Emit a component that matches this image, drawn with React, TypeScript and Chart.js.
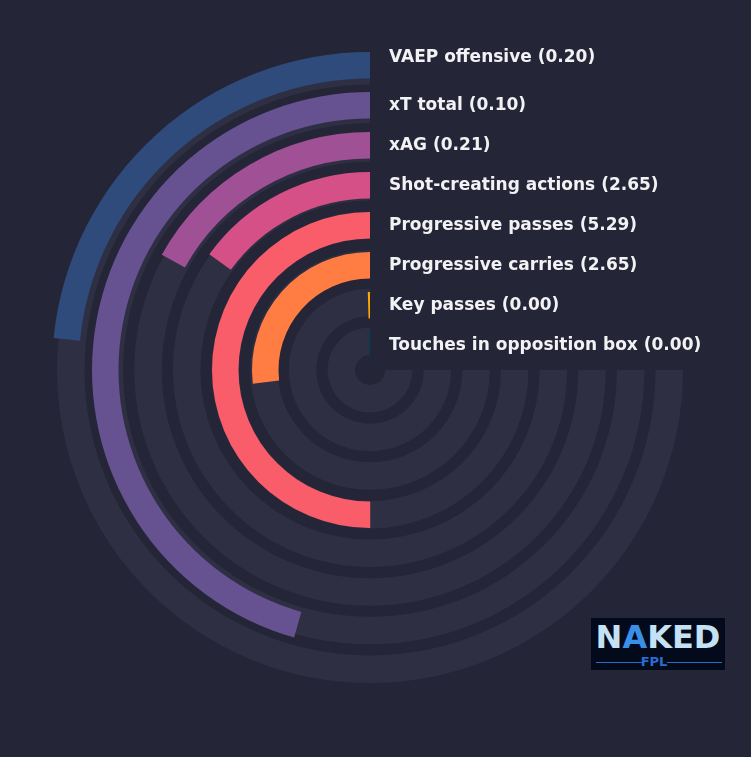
import React, { useEffect, useRef } from "react";
import { Chart, registerables } from "chart.js";

Chart.register(...registerables);

// ---- data ----
const categories = [
  "VAEP offensive",
  "xT total",
  "xAG",
  "Shot-creating actions",
  "Progressive passes",
  "Progressive carries",
  "Key passes",
  "Touches in opposition box",
];
const values = [0.2, 0.1, 0.21, 2.65, 5.29, 2.65, 0.0, 0.0];
// share of the 270° track that each bar fills
const fillShares = [0.312, 0.608, 0.226, 0.201, 0.667, 0.358, 0.006, 0.008];
const barColors = [
  "#2f4b7c",
  "#665191",
  "#a05195",
  "#d45087",
  "#f95d6a",
  "#ff7c43",
  "#ffa600",
  "#003f5c",
];

// ---- styling ----
const BG = "#252538";
const TRACK = "#2e2f43";
const TRANSPARENT = "rgba(0,0,0,0)";
const SIZE = 724;

function buildTrackConfig(): any {
  const ringW = 27.5;
  const gapW = 11.14;
  const outer = 313;
  const inner = 15;
  const datasets: any[] = [];
  categories.forEach((_, i) => {
    datasets.push({
      data: [1],
      backgroundColor: [TRACK],
      borderWidth: 0,
      weight: ringW,
    });
    if (i < categories.length - 1) {
      datasets.push({
        data: [1],
        backgroundColor: [TRANSPARENT],
        borderWidth: 0,
        weight: gapW,
      });
    }
  });
  return {
    type: "doughnut",
    data: { labels: ["track"], datasets },
    options: {
      animation: false,
      responsive: false,
      events: [],
      radius: outer,
      cutout: (inner / outer) * 100 + "%",
      rotation: 90,
      circumference: 270,
      layout: { padding: 0 },
      plugins: { legend: { display: false }, tooltip: { enabled: false } },
    },
  };
}

const labelPlugin = {
  id: "ringLabels",
  afterDraw(chart: any) {
    const ctx = chart.ctx;
    ctx.save();
    ctx.font = "bold 17px 'DejaVu Sans'";
    ctx.fillStyle = "#f2f2f4";
    ctx.textAlign = "left";
    ctx.textBaseline = "middle";
    categories.forEach((cat, i) => {
      const meta = chart.getDatasetMeta(i * 2);
      const arc = meta.data[1];
      if (!arc) return;
      const p = arc.getProps(["x", "y", "innerRadius", "outerRadius"], true);
      const mid = (p.innerRadius + p.outerRadius) / 2;
      const ty = p.y - mid - (i === 0 ? 8 : 0);
      const tx = p.x + 19;
      ctx.fillText(`${cat} (${values[i].toFixed(2)})`, tx, ty);
    });
    ctx.restore();
  },
};

function buildBarConfig(): any {
  const ringW = 26.5;
  const gapW = 13.5;
  const outer = 318;
  const inner = outer - (categories.length * ringW + (categories.length - 1) * gapW);
  const datasets: any[] = [];
  categories.forEach((_, i) => {
    const f = fillShares[i];
    datasets.push({
      data: [1 - f, f],
      backgroundColor: [TRANSPARENT, barColors[i]],
      borderWidth: 0,
      weight: ringW,
    });
    if (i < categories.length - 1) {
      datasets.push({
        data: [1],
        backgroundColor: [TRANSPARENT],
        borderWidth: 0,
        weight: gapW,
      });
    }
  });
  return {
    type: "doughnut",
    data: { labels: ["rest", "value"], datasets },
    options: {
      animation: false,
      responsive: false,
      events: [],
      radius: outer,
      cutout: (inner / outer) * 100 + "%",
      rotation: 90,
      circumference: 270,
      layout: { padding: 0 },
      plugins: { legend: { display: false }, tooltip: { enabled: false } },
    },
    plugins: [labelPlugin],
  };
}

export default function App() {
  const trackRef = useRef<HTMLCanvasElement | null>(null);
  const barRef = useRef<HTMLCanvasElement | null>(null);

  useEffect(() => {
    document.documentElement.style.background = BG;
    document.body.style.background = BG;
    const t = new Chart(trackRef.current as HTMLCanvasElement, buildTrackConfig());
    const b = new Chart(barRef.current as HTMLCanvasElement, buildBarConfig());
    return () => {
      t.destroy();
      b.destroy();
    };
  }, []);

  const canvasStyle: React.CSSProperties = {
    position: "absolute",
    left: 0,
    top: 0,
    width: SIZE,
    height: SIZE,
  };

  return (
    <div style={{ position: "relative", width: SIZE, height: 741, background: BG }}>
      <canvas ref={trackRef} width={SIZE} height={SIZE} style={canvasStyle} />
      <canvas ref={barRef} width={SIZE} height={SIZE} style={canvasStyle} />
      <div
        style={{
          position: "absolute",
          left: 583,
          top: 610,
          width: 134,
          height: 52,
          background: "#030a1c",
          fontFamily: "'DejaVu Sans', sans-serif",
          fontWeight: "bold",
          overflow: "hidden",
        }}
      >
        <div
          style={{
            position: "absolute",
            left: 0,
            top: 1,
            width: 134,
            textAlign: "center",
            fontSize: 32,
            lineHeight: "36px",
            letterSpacing: 0,
            color: "#c4e2f4",
          }}
        >
          N<span style={{ color: "#3a8fe6" }}>A</span>KED
        </div>
        <div
          style={{
            position: "absolute",
            left: 5,
            top: 44,
            width: 46,
            height: 1,
            background: "#2b6fc4",
          }}
        />
        <div
          style={{
            position: "absolute",
            left: 76,
            top: 44,
            width: 55,
            height: 1,
            background: "#2b6fc4",
          }}
        />
        <div
          style={{
            position: "absolute",
            left: 49,
            top: 36,
            width: 28,
            textAlign: "center",
            fontSize: 13,
            lineHeight: "15px",
            color: "#2a6dd0",
          }}
        >
          FPL
        </div>
      </div>
    </div>
  );
}
